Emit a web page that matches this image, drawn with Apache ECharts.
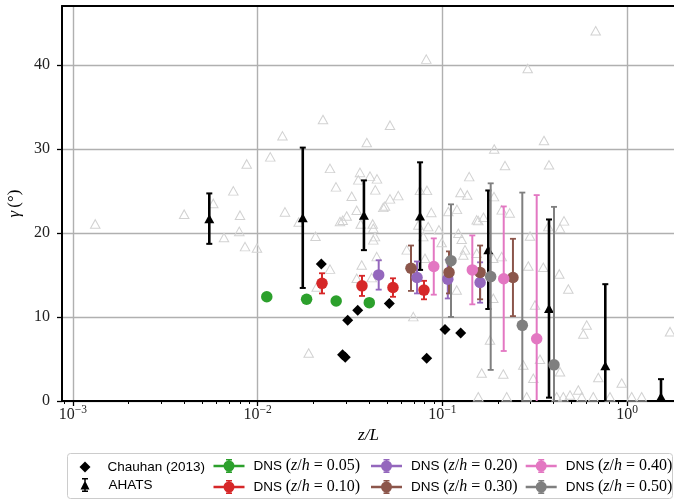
<!DOCTYPE html>
<html><head><meta charset="utf-8">
<script src="https://cdn.jsdelivr.net/npm/echarts@6/dist/echarts.min.js"></script>
<style>html,body{margin:0;padding:0;background:#fff}#c{width:674px;height:500px}</style>
</head><body><div id="c"></div>
<script>
// ---------------- data ----------------
const X_MIN = 8.72e-4, X_MAX = 1.817;
const Y_MIN = 0, Y_MAX = 47;
const xMajorTicks = [1e-3, 1e-2, 1e-1, 1];
const yTicks = [0, 10, 20, 30, 40];

const chauhanX = [0.0221, 0.0288, 0.0298, 0.0307, 0.0348, 0.0516, 0.0822, 0.1033, 0.1256];
const chauhanY = [16.3, 5.5, 5.2, 9.6, 10.8, 11.6, 5.1, 8.5, 8.1];

const ahatsX = [0.00547, 0.01754, 0.0376, 0.0757, 0.1772, 0.3777, 0.762, 1.526];
const ahatsY = [21.7, 21.8, 22.1, 22.0, 18.0, 11.0, 4.2, 0.5];
const ahatsErr = [3.0, 8.35, 4.15, 6.4, 7.05, 10.6, 9.7, 2.1];

const dns005X = [0.0112, 0.0184, 0.0266, 0.0402];
const dns005Y = [12.4, 12.1, 11.9, 11.7];
const dns005E = [0.3, 0.3, 0.3, 0.3];
const dns010X = [0.0223, 0.0367, 0.054, 0.0795];
const dns010Y = [14.0, 13.7, 13.5, 13.2];
const dns010E = [1.2, 1.2, 1.1, 1.1];
const dns020X = [0.0452, 0.0729, 0.107, 0.160];
const dns020Y = [15.0, 14.7, 14.5, 14.1];
const dns020E = [1.75, 1.9, 2.3, 2.4];
const dns030X = [0.0676, 0.1086, 0.160, 0.241];
const dns030Y = [15.8, 15.3, 15.3, 14.7];
const dns030E = [2.7, 2.5, 3.2, 4.6];
const dns040X = [0.0898, 0.1452, 0.2148, 0.324];
const dns040Y = [16.0, 15.6, 14.55, 7.4];
const dns040E = [3.35, 4.1, 8.6, 17.1];
const dns050X = [0.1113, 0.1826, 0.2708, 0.402];
const dns050Y = [16.7, 14.8, 9.0, 4.3];
const dns050E = [6.7, 11.1, 15.8, 18.8];
const dnsLevels = ['0.05', '0.10', '0.20', '0.30', '0.40', '0.50'];

const bgX = [0.00132,0.00400,0.00575,0.00738,0.00872,0.00802,0.00657,0.00795,0.00854,0.00991,
  0.0117,0.01362,0.01405,0.01667,0.02056,0.02257,0.02463,0.02654,0.0279,0.02463,
  0.02086,0.01888,0.03896,0.0358,0.04055,0.04425,0.03505,0.04333,0.03228,0.03436,
  0.03033,0.02885,0.03612,0.04195,0.04227,0.04317,0.03657,0.03436,0.04143,0.04409,
  0.04227,0.676,0.0818,0.2896,0.05204,0.3549,0.1908,0.2183,0.3778,0.1397,
  0.05204,0.05771,0.0489,0.04786,0.0756,0.0825,0.0871,0.0958,0.1199,0.1253,
  0.1364,0.1076,0.1534,0.1564,0.1669,0.1903,0.2315,0.0741,0.0838,0.0788,
  0.0991,0.122,0.1272,0.2095,0.2981,0.3745,0.4555,0.4333,0.0641,0.0805,
  0.1298,0.1534,0.1886,0.2095,0.0696,0.1195,0.1886,0.1632,0.2137,0.1564,
  0.181,0.2918,0.3518,0.4295,0.4806,0.3173,0.6043,0.5793,1.708,0.2742,
  0.3376,0.4333,0.3106,0.6984,0.935,0.5443,0.5679,0.4515,0.4908,0.4157,
  0.6561,0.8079,1.059,1.199,0.286,0.2229,0.1326];
const bgY = [21.07,22.23,23.51,25.0,28.21,22.11,19.46,20.18,18.37,18.21,
  29.05,31.55,22.5,21.29,19.61,33.49,27.68,25.48,21.35,15.69,
  13.57,5.71,30.75,27.2,26.76,26.43,26.31,25.12,24.37,22.7,
  22.02,21.51,21.07,21.07,20.56,19.56,16.19,14.61,14.68,17.18,
  19.17,44.05,40.68,39.56,32.82,30.99,29.98,28.01,28.1,26.7,
  24.05,24.44,23.21,23.04,25.06,25.06,22.44,20.36,22.8,24.8,
  24.52,22.54,21.55,21.46,21.87,24.32,22.38,20.95,20.75,19.56,
  18.85,19.96,19.25,22.74,19.64,20.75,21.43,20.54,17.98,16.99,
  17.38,17.58,16.99,17.18,10.04,13.21,12.23,3.33,3.21,0.51,
  7.26,16.07,15.92,15.12,13.33,11.43,9.05,7.98,8.25,4.29,
  4.96,3.49,2.70,2.80,2.14,1.31,0.51,0.51,0.71,0.51,
  0.51,0.51,0.51,0.51,0.51,0.51,17.98];

// ---------------- styles ----------------
const dnsColors = ['#2ca02c', '#d62728', '#9467bd', '#8c564b', '#e377c2', '#7f7f7f'];
const SERIF = 'Liberation Serif';
const SANS = 'Liberation Sans';

const L = Math.log10;
const dnsSets = [
  [dns005X, dns005Y, dns005E], [dns010X, dns010Y, dns010E], [dns020X, dns020Y, dns020E],
  [dns030X, dns030Y, dns030E], [dns040X, dns040Y, dns040E], [dns050X, dns050Y, dns050E]
];
const dnsName = lv => 'DNS (z/h = ' + lv + ')';

const minorTicks = [];
for (let e = -4; e <= 0; e++) for (let m = 2; m <= 9; m++) {
  const v = m * Math.pow(10, e);
  if (v >= X_MIN && v <= X_MAX) minorTicks.push(L(v));
}

function errorBars(name, xs, ys, es, color, lw, capW, capLw, z) {
  return {
    type: 'custom', name: name, xAxisIndex: 0, yAxisIndex: 0, clip: true, silent: true, z: z,
    data: xs.map((x, i) => [L(x), ys[i] - es[i], ys[i] + es[i]]),
    encode: { x: 0, y: [1, 2] },
    renderItem: function (params, api) {
      const x = api.value(0);
      const p0 = api.coord([x, api.value(1)]);
      const p1 = api.coord([x, api.value(2)]);
      const h = capW / 2;
      return { type: 'group', children: [
        { type: 'line', shape: { x1: p0[0], y1: p0[1], x2: p1[0], y2: p1[1] }, style: { stroke: color, lineWidth: lw } },
        { type: 'line', shape: { x1: p1[0] - h, y1: p1[1], x2: p1[0] + h, y2: p1[1] }, style: { stroke: color, lineWidth: capLw } },
        { type: 'line', shape: { x1: p0[0] - h, y1: p0[1], x2: p0[0] + h, y2: p0[1] }, style: { stroke: color, lineWidth: capLw } }
      ] };
    }
  };
}

const series = [];
series.push({
  type: 'scatter', name: 'bg', xAxisIndex: 0, yAxisIndex: 0, silent: true, z: 2,
  symbol: 'triangle', symbolSize: [9.5, 8.5],
  itemStyle: { color: 'rgba(255,255,255,0)', borderColor: '#d2d2d2', borderWidth: 1, opacity: 1 },
  data: bgX.map((x, i) => [L(x), bgY[i]])
});
series.push({
  type: 'scatter', name: 'Chauhan (2013)', xAxisIndex: 0, yAxisIndex: 0, silent: true, z: 4,
  symbol: 'diamond', symbolSize: [11, 11], itemStyle: { color: '#000', opacity: 1 },
  data: chauhanX.map((x, i) => [L(x), chauhanY[i]])
});
series.push(errorBars('AHATS-err', ahatsX, ahatsY, ahatsErr, '#000', 2.6, 6, 2, 4));
series.push({
  type: 'scatter', name: 'AHATS', xAxisIndex: 0, yAxisIndex: 0, silent: true, z: 4,
  symbol: 'triangle', symbolSize: [10, 9], itemStyle: { color: '#000', opacity: 1 },
  data: ahatsX.map((x, i) => [L(x), ahatsY[i]])
});
dnsSets.forEach((s, k) => {
  series.push(errorBars('err' + k, s[0], s[1], s[2], dnsColors[k], 2, 6, 1.8, 5));
  series.push({
    type: 'scatter', name: dnsName(dnsLevels[k]), xAxisIndex: 0, yAxisIndex: 0, silent: true, z: 5,
    symbol: 'circle', symbolSize: 11.5, itemStyle: { color: dnsColors[k], opacity: 1 },
    data: s[0].map((x, i) => [L(x), s[1][i]])
  });
});

// legend icons
const iconDiamond = 'path://M5.5 0 L11 5.5 L5.5 11 L0 5.5 Z';
const iconAhats = 'path://M3.75 0 L5.25 0 L5.25 14 L3.75 14 Z M1.5 0 L7.5 0 L7.5 1.6 L1.5 1.6 Z M1.5 12.4 L7.5 12.4 L7.5 14 L1.5 14 Z M0 11.5 L4.5 2.5 L9 11.5 Z';
const iconDns = 'path://M0 5.75 L31 5.75 L31 8.25 L0 8.25 Z M14.75 0 L16.25 0 L16.25 14 L14.75 14 Z M12.5 0 L18.5 0 L18.5 1.4 L12.5 1.4 Z M12.5 12.6 L18.5 12.6 L18.5 14 L12.5 14 Z M21 7 A5.5 5.5 0 1 1 10 7 A5.5 5.5 0 1 1 21 7 Z';

function legendText(padLeft) {
  return {
    fontFamily: SANS, fontSize: 13.5, color: '#000', lineHeight: 15, padding: [0, 0, 0, padLeft],
    rich: {
      p: { fontFamily: SERIF, fontSize: 16, lineHeight: 15, color: '#000' },
      i: { fontFamily: SERIF, fontStyle: 'italic', fontSize: 16, lineHeight: 15, color: '#000' }
    }
  };
}
function legendFmt(name) {
  const m = name.match(/^DNS \(z\/h = (.*)\)$/);
  if (m) return 'DNS {p|(}{i|z}{p|/}{i|h}{p| = ' + m[1] + ')}';
  return name;
}
function legendBase(extra, padLeft) {
  return Object.assign({
    orient: 'vertical', itemWidth: 31, itemHeight: 14, itemGap: 5, selectedMode: false,
    textStyle: legendText(padLeft), formatter: legendFmt, padding: 0
  }, extra);
}
const legends = [
  legendBase({ left: 79.5, top: 459.5, itemWidth: 11, itemHeight: 11, data: [{ name: 'Chauhan (2013)', icon: iconDiamond }] }, 12),
  legendBase({ left: 80.5, top: 477.5, itemWidth: 9, itemHeight: 14, data: [{ name: 'AHATS', icon: iconAhats }] }, 14),
  legendBase({ left: 213.5, top: 458, data: [0, 1].map(k => ({ name: dnsName(dnsLevels[k]), icon: iconDns })) }, 4),
  legendBase({ left: 371, top: 458, data: [2, 3].map(k => ({ name: dnsName(dnsLevels[k]), icon: iconDns })) }, 4),
  legendBase({ left: 525.7, top: 458, data: [4, 5].map(k => ({ name: dnsName(dnsLevels[k]), icon: iconDns })) }, 4)
];

const option = {
  animation: false,
  backgroundColor: '#fff',
  textStyle: { fontFamily: SERIF },
  grid: { left: 62, top: 6, width: 613, height: 395, containLabel: false, outerBoundsMode: 'none' },
  xAxis: [
    {
      type: 'value', position: 'bottom', min: L(X_MIN), max: L(X_MAX),
      name: 'z/L', nameLocation: 'middle', nameGap: 20,
      nameTextStyle: { fontFamily: SERIF, fontStyle: 'italic', fontSize: 17, color: '#000' },
      axisLine: { show: true, onZero: false, lineStyle: { color: '#000', width: 2 } },
      axisTick: { show: true, inside: false, length: 5, customValues: xMajorTicks.map(L), lineStyle: { color: '#000', width: 1.3 } },
      axisLabel: {
        show: true, margin: 2.5, customValues: xMajorTicks.map(L),
        formatter: v => '{b|10}{s|' + String(Math.round(v)).replace('-', '\u2212') + '}',
        rich: {
          b: { fontFamily: SERIF, fontSize: 16, lineHeight: 22, color: '#222' },
          s: { fontFamily: SERIF, fontSize: 11.5, lineHeight: 11, verticalAlign: 'top', color: '#222' }
        }
      },
      splitLine: { show: true, lineStyle: { color: '#b0b0b0', width: 1.4 } }
    },
    {
      type: 'value', position: 'bottom', min: L(X_MIN), max: L(X_MAX),
      axisLine: { show: false, onZero: false },
      axisTick: { show: true, inside: false, length: 3, customValues: minorTicks, lineStyle: { color: '#000', width: 1 } },
      axisLabel: { show: false }, splitLine: { show: false }
    },
    {
      type: 'value', position: 'top', min: L(X_MIN), max: L(X_MAX),
      axisLine: { show: true, onZero: false, lineStyle: { color: '#000', width: 2 } },
      axisTick: { show: false }, axisLabel: { show: false }, splitLine: { show: false }
    }
  ],
  yAxis: [{
    type: 'value', min: Y_MIN, max: Y_MAX, interval: 10,
    name: '{i|γ} {r|(°)}', nameLocation: 'middle', nameGap: 27,
    nameTextStyle: {
      rich: {
        i: { fontFamily: SERIF, fontStyle: 'italic', fontSize: 17, color: '#000' },
        r: { fontFamily: SERIF, fontSize: 17, color: '#000' }
      }
    },
    axisLine: { show: true, onZero: false, lineStyle: { color: '#000', width: 2 } },
    axisTick: { show: true, inside: false, length: 5, customValues: yTicks, lineStyle: { color: '#000', width: 1.3 } },
    axisLabel: { show: true, margin: 12, customValues: yTicks, fontFamily: SERIF, fontSize: 16, color: '#222' },
    splitLine: { show: true, lineStyle: { color: '#b0b0b0', width: 1.4 } }
  }],
  legend: legends,
  graphic: [{
    type: 'rect', z: 0, silent: true,
    shape: { x: 67.5, y: 453.5, width: 605, height: 45, r: 3 },
    style: { fill: '#fff', stroke: '#cccccc', lineWidth: 1 }
  }],
  series: series
};
const chart = echarts.init(document.getElementById('c'), null, { renderer: 'canvas' });
chart.setOption(option);
</script></body></html>
